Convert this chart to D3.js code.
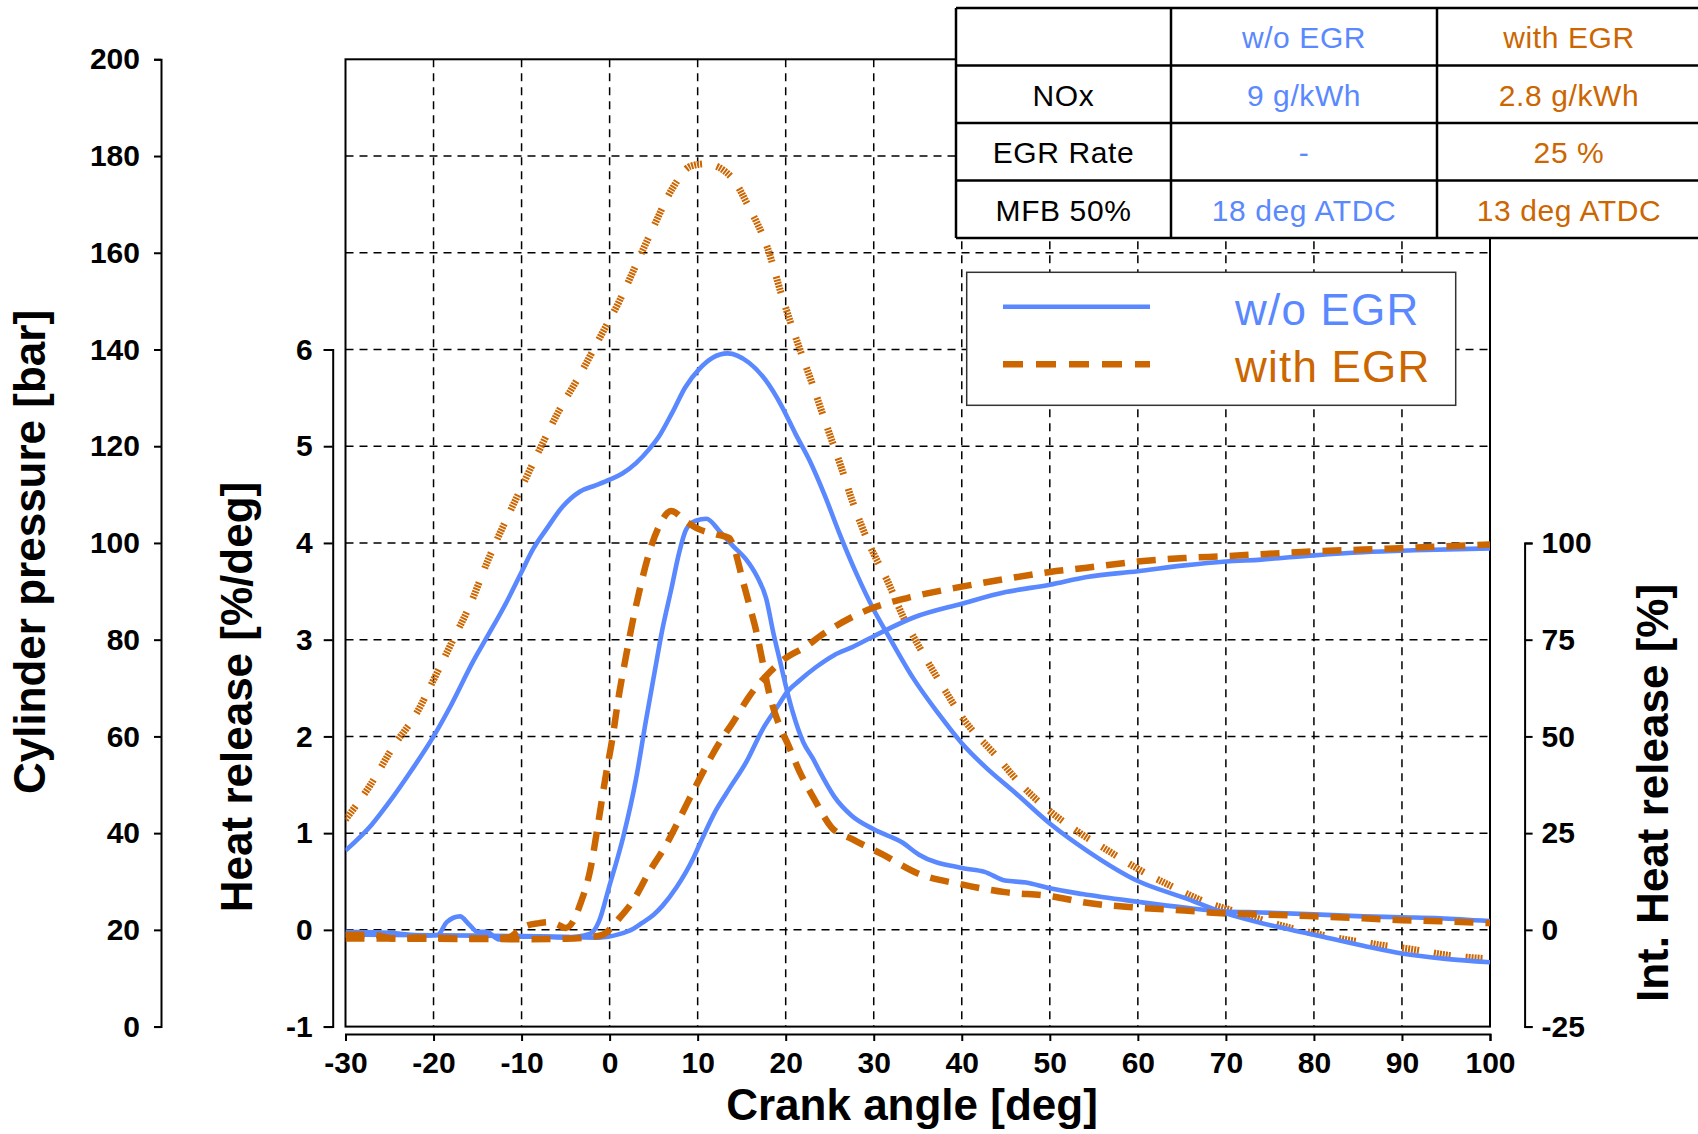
<!DOCTYPE html>
<html>
<head>
<meta charset="utf-8">
<script src="https://cdn.jsdelivr.net/npm/d3@7"></script>
<style>
  body { margin: 0; background: #fff; }
  svg { display: block; font-family: "Liberation Sans", Arial, sans-serif; }
</style>
</head>
<body>
<svg width="1698" height="1134"></svg>
<script>
// values (crank angle in deg)
var pNoEgrDeg = [-30,-27,-25,-22.5,-20,-18,-15.5,-14,-11.7,-10,-8.7,-7.2,-5.3,-3.4,-1.6,0,1.4,3,4.5,5.6,7.1,8.6,10.2,11.7,13.4,15.8,17.7,19.6,21.1,22.7,24.4,26.1,28.1,30,31.7,34.5,37.4,40,42.6,46.1,50,54.2,60,65.3,70,74,80,85.6,90,95,100];
var pNoEgr = [36.4,41.8,46.5,53,60,66.5,75.5,80.3,87.8,94,98.7,102.8,107.6,110.6,111.9,113.1,114.3,116.5,119.4,122,126.9,132.2,136,138.3,139.2,137.3,133.7,128.1,122.6,117.1,110,102,93.4,86.2,80.7,72,64.6,58.6,53.8,48.3,42,36.4,30.1,26.6,23.4,21.4,19,16.7,15.1,14,13.3];

var pEgrDeg = [-30,-27.2,-24.6,-21.9,-19.7,-17.8,-15.9,-13.8,-11.7,-10,-7.9,-6,-3.3,-1.1,1.1,3,4.9,7.2,9.2,10.9,13.8,15.8,17.9,19.6,21.5,23,24.7,26.3,27.6,29.5,31.6,33.3,35.7,37.7,40.3,43.8,46.8,49.7,53.1,56.6,60.1,63.5,68.2,71.1,76.9,82.7,86.7,91.4,95.4,100];
var pEgr = [42.8,49.9,57.8,64.9,72.8,79.9,87,96.5,105,111.5,119.5,126.5,135,142.5,150,157.5,165,173.5,177.9,178.4,175.7,169.5,161.2,150.9,140.6,133,124,115.7,108.5,99.7,92,84.9,76.8,70.7,63.3,56.2,49.9,45,40.4,36.4,32.5,29.3,25.4,23.8,20.6,18.3,17.1,15.9,14.7,14];

var hrNoEgrDeg = [-30,-25,-21,-19.5,-18.5,-17,-15.9,-15,-14,-12.5,-10.5,-8,-5,-2.2,-1.2,-0.1,1.6,3,4.1,5.1,6,7,7.9,8.7,9.8,11,12.5,14,15.5,16.7,17.8,18.6,19.3,20.1,20.8,22,23.1,23.9,25.5,27.5,30,33.3,35.1,40,42.6,44.9,47.3,50,53.7,60,65.3,70,74,80,85.6,90,94.3,100];
var hrNoEgr = [-0.02,-0.03,-0.06,-0.05,0.08,0.14,0.05,-0.02,-0.02,-0.1,-0.07,-0.07,-0.08,-0.04,0.09,0.43,0.98,1.56,2.15,2.66,3.11,3.52,3.9,4.14,4.23,4.25,4.12,3.97,3.83,3.66,3.42,3.07,2.8,2.49,2.25,1.94,1.77,1.63,1.38,1.18,1.04,0.9,0.78,0.64,0.6,0.51,0.49,0.43,0.37,0.29,0.23,0.19,0.18,0.16,0.14,0.13,0.12,0.09];

var hrEgrDeg = [-30,-27,-24.5,-22,-20,-17,-14,-11.5,-10.5,-9.5,-8,-7,-6,-5,-4.2,-3.4,-2.2,-1.3,-0.5,0.3,1.1,1.8,2.6,3.5,4.5,5.6,7,8.7,10.2,12.1,13.6,14.2,15.1,15.9,16.7,17.4,18.2,19.3,20.3,21.6,23.2,25.2,27.5,31,35.1,40,44.9,50,54.2,60,65.3,70,74,80,85.6,90,94.3,100];
var hrEgr = [-0.05,-0.05,-0.09,-0.08,-0.08,-0.09,-0.09,-0.08,-0.02,0.04,0.07,0.08,0.06,0.02,0.08,0.25,0.62,1.1,1.56,1.97,2.45,2.8,3.18,3.55,3.9,4.17,4.33,4.22,4.14,4.09,4.05,3.93,3.62,3.35,3.07,2.76,2.42,2.11,1.91,1.63,1.36,1.06,0.94,0.78,0.58,0.47,0.39,0.35,0.28,0.23,0.2,0.17,0.16,0.14,0.12,0.1,0.09,0.07];

var ihrNoEgrDeg = [-30,-20,-10,-5,-1.2,1.1,2.7,3.7,5,6,7.6,9.5,10.2,12.1,13.6,15.5,17.4,19.3,20,21.6,23.5,25.5,27.5,30,34.6,40,45,50,54.2,60,65.3,70,74,80,85.6,91.4,100];
var ihrNoEgr = [-1.2,-1.4,-1.6,-1.8,-2,-1.1,0.3,1.8,3.9,6.2,11,18.5,22,31,36.5,43.3,51.9,58.5,61,64.5,68,71,73,75.9,80.8,84.3,87.3,89.2,91.2,92.7,94.2,95.2,95.7,96.8,97.6,98.1,98.6];

var ihrEgrDeg = [-30,-20,-10,-5,-2,-0.8,1.1,2.6,4.5,6.4,8.7,10.2,12.5,14,15.9,17.8,19.8,22.4,23.9,27.5,30,34.6,40,45,50,54.2,60,65.3,70,74,80,85.6,91.4,100];
var ihrEgr = [-2.2,-2.3,-2.4,-2.3,-1.8,-1.3,3,7.3,15,21.9,32.2,39,48.5,53.6,60.5,65.7,69.9,73.4,75.9,80.8,83.3,86.2,88.7,90.7,92.5,93.6,95.2,96.1,96.6,97.1,97.8,98.3,98.8,99.6];

// ticks
var xTicks = [-30,-20,-10,0,10,20,30,40,50,60,70,80,90,100];
var pTicks = [0,20,40,60,80,100,120,140,160,180,200];
var hrTicks = [-1,0,1,2,3,4,5,6];
var intTicks = [-25,0,25,50,75,100];

// table + legend
var tableHead = ["", "w/o EGR", "with EGR"];
var tableRows = [
  ["NOx", "9 g/kWh", "2.8 g/kWh"],
  ["EGR Rate", "-", "25 %"],
  ["MFB 50%", "18 deg ATDC", "13 deg ATDC"]
];
var seriesNames = ["w/o EGR", "with EGR"];

var blue = "#5A88FF", orange = "#CC6600";
var font = "'Liberation Sans', Arial, sans-serif";

var svg = d3.select("svg");

var x = d3.scaleLinear().domain([-30, 100]).range([345.5, 1490]);
var yP = d3.scaleLinear().domain([0, 200]).range([1026.6, 59.3]);
var yHR = d3.scaleLinear().domain([-1, 6]).range([yP(0), yP(140)]);
var yInt = d3.scaleLinear().domain([-25, 100]).range([yP(0), yP(100)]);

// dashed grid
var grid = svg.append("g")
  .attr("stroke", "#000").attr("stroke-width", 1.5).attr("stroke-dasharray", "8,6");
grid.selectAll(".gv").data(xTicks.slice(1, -1)).enter().append("line")
  .attr("x1", d => x(d)).attr("x2", d => x(d))
  .attr("y1", yP(200)).attr("y2", yP(0));
grid.selectAll(".gh").data(pTicks.slice(1, -1)).enter().append("line")
  .attr("x1", x(-30)).attr("x2", x(100))
  .attr("y1", d => yP(d)).attr("y2", d => yP(d));

// plot frame
svg.append("rect")
  .attr("x", x(-30)).attr("y", yP(200))
  .attr("width", x(100) - x(-30)).attr("height", yP(0) - yP(200))
  .attr("fill", "none").attr("stroke", "#000").attr("stroke-width", 2);

// plain hyphen labels like the original
var fmt = d => String(d);

function styleAxis(g) {
  g.attr("font-family", font).attr("font-size", 30).attr("font-weight", "bold");
  g.selectAll("path, line").attr("stroke", "#000").attr("stroke-width", 2);
  g.selectAll("text").attr("fill", "#000");
}

svg.append("g").attr("transform", "translate(161,0)")
  .call(d3.axisLeft(yP).tickValues(pTicks).tickFormat(fmt).tickSize(7).tickSizeOuter(7).tickPadding(14))
  .call(styleAxis);

svg.append("g").attr("transform", "translate(332.7,0)")
  .call(d3.axisLeft(yHR).tickValues(hrTicks).tickFormat(fmt).tickSize(9).tickSizeOuter(9).tickPadding(11))
  .call(styleAxis);

svg.append("g").attr("transform", "translate(1524.6,0)")
  .call(d3.axisRight(yInt).tickValues(intTicks).tickFormat(fmt).tickSize(8).tickSizeOuter(8).tickPadding(9))
  .call(styleAxis);

svg.append("g").attr("transform", "translate(0,1034)")
  .call(d3.axisBottom(x).tickValues(xTicks).tickFormat(fmt).tickSize(7).tickSizeOuter(7).tickPadding(11))
  .call(styleAxis);

// axis titles
function title(txt, tx, ty, rot) {
  svg.append("text")
    .attr("transform", "translate(" + tx + "," + ty + ")" + (rot ? " rotate(-90)" : ""))
    .attr("text-anchor", "middle")
    .attr("font-family", font).attr("font-weight", "bold").attr("font-size", 44)
    .text(txt);
}
title("Crank angle [deg]", 912, 1120, false);
title("Cylinder pressure [bar]", 45, 552, true);
title("Heat release [%/deg]", 252, 697, true);
title("Int. Heat release [%]", 1668, 793, true);

// curves
svg.append("clipPath").attr("id", "plot").append("rect")
  .attr("x", x(-30)).attr("y", yP(200))
  .attr("width", x(100) - x(-30)).attr("height", yP(0) - yP(200));

var curves = svg.append("g").attr("clip-path", "url(#plot)").attr("fill", "none");

function draw(deg, vals, ys, color, width, dash) {
  var line = d3.line()
    .x(d => x(d[0])).y(d => ys(d[1]))
    .curve(d3.curveMonotoneX);
  curves.append("path")
    .datum(d3.zip(deg, vals))
    .attr("d", line)
    .attr("stroke", color).attr("stroke-width", width)
    .attr("stroke-dasharray", dash)
    .attr("stroke-linejoin", "round");
}

// hatched dashes of the EGR pressure trace
var hatch = "2,1,2,1,2,1,2,1,2,1,2,15";
draw(pEgrDeg, pEgr, yP, orange, 7, hatch);
draw(pNoEgrDeg, pNoEgr, yP, blue, 4.6, null);
draw(ihrNoEgrDeg, ihrNoEgr, yInt, blue, 4.6, null);
draw(hrNoEgrDeg, hrNoEgr, yHR, blue, 4.6, null);
draw(ihrEgrDeg, ihrEgr, yInt, orange, 6.5, "19,12");
draw(hrEgrDeg, hrEgr, yHR, orange, 6.5, "19,12");

// legend
var lg = svg.append("g");
lg.append("rect")
  .attr("x", 966.7).attr("y", 272.3).attr("width", 489).attr("height", 133)
  .attr("fill", "#fff").attr("stroke", "#333").attr("stroke-width", 1.5);
lg.append("line").attr("x1", 1003).attr("x2", 1150).attr("y1", 306.7).attr("y2", 306.7)
  .attr("stroke", blue).attr("stroke-width", 4.6);
lg.append("line").attr("x1", 1003).attr("x2", 1150).attr("y1", 364.3).attr("y2", 364.3)
  .attr("stroke", orange).attr("stroke-width", 6.5).attr("stroke-dasharray", "20,13");
lg.selectAll("text").data(seriesNames).enter().append("text")
  .attr("x", 1235).attr("y", (d, i) => i ? 382 : 325)
  .attr("font-family", font).attr("font-size", 44).attr("letter-spacing", 1.2)
  .attr("fill", (d, i) => i ? orange : blue)
  .text(d => d);

// table
var colX = [956, 1171, 1437, 1701];
var rowY = [8, 65.5, 123, 180.5, 238];
var tbl = svg.append("g");
tbl.append("rect")
  .attr("x", colX[0]).attr("y", rowY[0])
  .attr("width", colX[3] - colX[0]).attr("height", rowY[4] - rowY[0])
  .attr("fill", "#fff");
rowY.forEach(function (ry) {
  tbl.append("line").attr("x1", colX[0]).attr("x2", colX[3]).attr("y1", ry).attr("y2", ry)
    .attr("stroke", "#000").attr("stroke-width", 2.5);
});
colX.forEach(function (cx) {
  tbl.append("line").attr("x1", cx).attr("x2", cx).attr("y1", rowY[0]).attr("y2", rowY[4])
    .attr("stroke", "#000").attr("stroke-width", 2.5);
});
var cellColors = ["#000", blue, orange];
[tableHead].concat(tableRows).forEach(function (row, r) {
  row.forEach(function (txt, c) {
    tbl.append("text")
      .attr("x", (colX[c] + colX[c + 1]) / 2)
      .attr("y", rowY[r] + 40)
      .attr("text-anchor", "middle")
      .attr("font-family", font).attr("font-size", 30).attr("letter-spacing", 0.6)
      .attr("fill", cellColors[c])
      .text(txt);
  });
});
</script>
</body>
</html>
